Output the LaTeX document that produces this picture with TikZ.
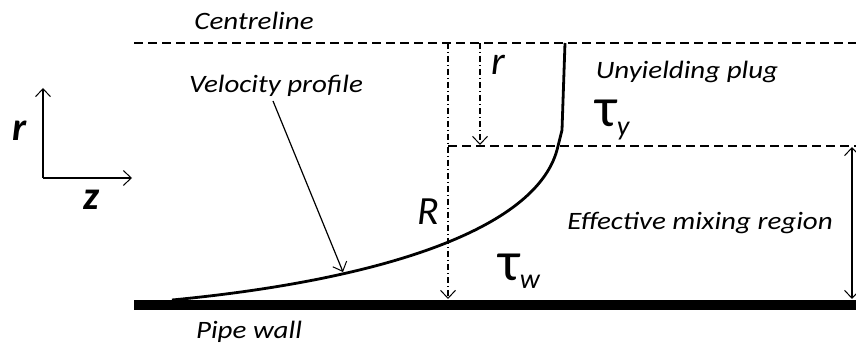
\documentclass[tikz,border=0pt]{standalone}
\usepackage{fontspec}
\setmainfont{Carlito}[FakeStretch=1.16]
\newfontfamily\symfont{Carlito}
\usetikzlibrary{arrows.meta}
\begin{document}
\begin{tikzpicture}[x=1pt,y=-1pt,
  lbl/.style={font=\itshape\fontsize{25}{28}\selectfont, inner sep=0pt, anchor=base},
  sym/.style={font=\symfont\fontsize{40}{44}\selectfont, inner sep=0pt, anchor=base west},
  isym/.style={font=\symfont\itshape\fontsize{40}{44}\selectfont, inner sep=0pt, anchor=base},
  axl/.style={font=\symfont\bfseries\itshape\fontsize{40}{44}\selectfont, inner sep=0pt, anchor=base},
  dsh/.style={line width=1.6pt, dash pattern=on 9pt off 5pt},
  dshdot/.style={line width=1.1pt, dash pattern=on 6pt off 3pt on 1pt off 3pt},
  barb/.tip={Straight Barb[length=8pt,width=15pt,line width=1pt]},
  tip/.style={-barb},
  thin/.style={line width=1.2pt}]
\newcommand{\subs}[1]{\raisebox{-0.22em}{\fontsize{28}{30}\selectfont\itshape #1}}
\newcommand{\tauglyph}{{\fontsize{56}{60}\selectfont τ}}
\useasboundingbox (0,0) rectangle (856,347);
% lines
\coordinate (cl0) at (134,43); \coordinate (cl1) at (856,43);
\draw[dsh] (cl0) -- (cl1);
\coordinate (pl0) at (448,146); \coordinate (pl1) at (856,146);
\draw[dsh] (pl0) -- (pl1);
\coordinate (w0) at (134,305); \coordinate (w1) at (856,305);
\draw[line width=10pt] (w0) -- (w1);
% axes
\coordinate (o) at (43,178); \coordinate (ry) at (43,88); \coordinate (zx) at (132,178);
\draw[thin,tip] (o) -- (ry);
\draw[thin,tip] (o) -- (zx);
\node[axl] (rlab) at (20,141) {r};
\node[axl] (zlab) at (91,210) {z};
% R and r
\coordinate (Rt) at (448,43); \coordinate (Rb) at (448,299);
\draw[dshdot,tip] (Rt) -- (Rb);
\coordinate (rt) at (480,43); \coordinate (rb) at (480,145);
\draw[dshdot,tip] (rt) -- (rb);
\node[isym] (Rlab) at (428,225) {R};
\node[isym] (rlab2) at (498,75) {r};
% profile
\coordinate (p0) at (172,300);
\coordinate (pa) at (343,272);
\draw[line width=2.8pt] (p0) .. controls (380,280) and (535,230) .. (557,150)
  .. controls (560,140) .. (562,130) -- (565,43);
% labels
\node[lbl] (cent) at (254,30) {Centreline};
\node[lbl] (vel) at (276,93) {Velocity profile};
\coordinate (va) at (273,101);
\draw[thin,tip] (va) -- (pa);
\node[lbl] (plug) at (687,79) {Unyielding plug};
\node[sym] (ty) at (595,127) {\tauglyph\subs{y}};
\node[lbl] (mix) at (700,230) {Effective mixing region};
\node[sym] (tw) at (498,280) {\tauglyph\subs{w}};
\node[lbl] (wall) at (249,338) {Pipe wall};
% double arrow
\coordinate (m0) at (852,147); \coordinate (m1) at (852,299);
\draw[thin,barb-barb] (m0) -- (m1);
\end{tikzpicture}
\end{document}
